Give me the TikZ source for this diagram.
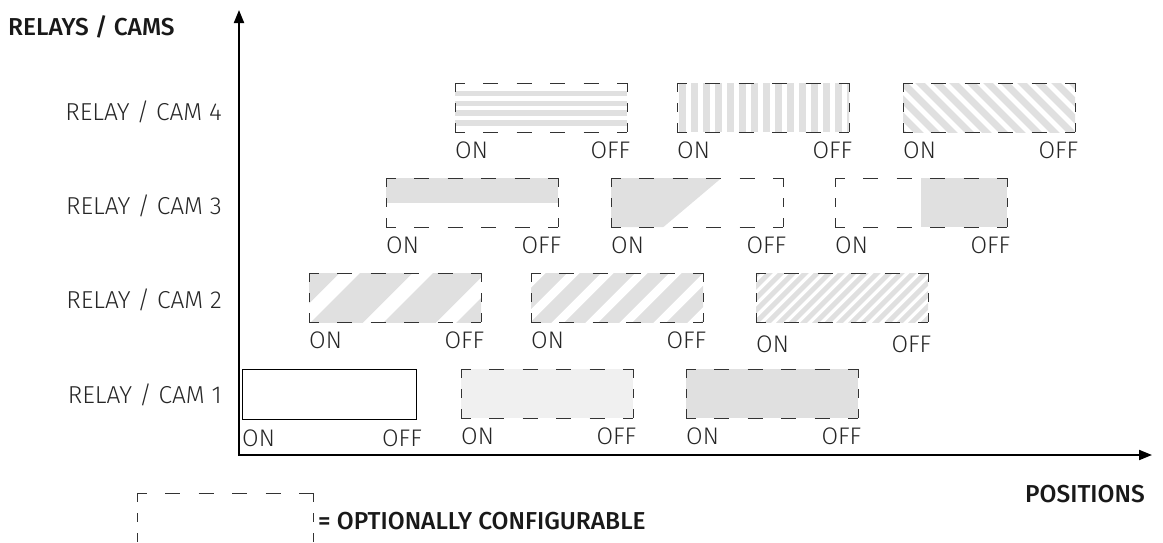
\documentclass[tikz,border=0pt]{standalone}
\usepackage{fontspec}
\setmainfont{Fira Sans Light}
\newfontfamily\medf{Fira Sans Medium}
\usetikzlibrary{arrows.meta}
\definecolor{dashc}{HTML}{333333}
\definecolor{stripec}{HTML}{E0E0E0}
\definecolor{lightc}{HTML}{F0F0F0}
\tikzset{
  cam/.style={inner sep=0pt, minimum width=172pt, minimum height=49pt, anchor=north west},
  hdash/.style={draw=dashc, line width=1pt, dash pattern=on 15pt off 18.5pt, dash phase=5.5pt},
  vdash/.style={draw=dashc, line width=1pt, dash pattern=on 9pt off 11pt},
  solidcam/.style={draw=black, line width=1pt, inner sep=0pt,
    minimum width=174pt, minimum height=50pt, anchor=north west},
  lbl/.style={font=\fontsize{24.5}{28}\selectfont, inner sep=0pt, text=black!85},
  onl/.style={lbl, font=\fontsize{24}{28}\selectfont, anchor=west},
  offl/.style={lbl, font=\fontsize{24}{28}\selectfont, anchor=east},
  rowl/.style={lbl, anchor=east},
  head/.style={font=\medf\fontsize{24.5}{28}\selectfont, inner sep=0pt, text=black!90},
  strp/.style={draw=stripec, solid},
  axis/.style={line width=2pt, -{Triangle[length=13pt,width=10pt]}}
}
\begin{document}
\begin{tikzpicture}[x=1pt,y=-1pt]
\useasboundingbox (0,0) rectangle (1163,542);
\clip (0,0) rectangle (1163,542);

% headings
\node[head, anchor=west] (yt) at (8,27) {RELAYS / CAMS};
\node[head, anchor=east] (xt) at (1145,494) {POSITIONS};

% row labels
\node[rowl] (r4) at (222,112) {RELAY / CAM 4};
\node[rowl] (r3) at (222,206) {RELAY / CAM 3};
\node[rowl] (r2) at (222,300) {RELAY / CAM 2};
\node[rowl] (r1) at (222,395) {RELAY / CAM 1};

% ---- row 4
\node[cam, path picture={
   \foreach \k in {0,...,3}
     \fill[stripec] ([yshift=-7.5pt-9.8pt*\k]path picture bounding box.north west) rectangle ++(172,5.5);
 }] (b41) at (455,83) {};
\node[cam, path picture={
   \foreach \k in {0,...,14}
     \fill[stripec] ([xshift=2pt+12pt*\k]path picture bounding box.north west) rectangle ++(7,49);
 }] (b42) at (677,83) {};
\node[cam, path picture={
   \foreach \k in {-4,...,12}
     \draw[strp, line width=7pt] ([xshift=17pt*\k-30pt, yshift=30pt]path picture bounding box.north west) -- ++(120,120);
 }] (b43) at (903,83) {};

% ---- row 3
\node[cam, path picture={
   \fill[stripec] (path picture bounding box.north west) rectangle (path picture bounding box.east);
 }] (b31) at (386,178) {};
\node[cam, path picture={
   \fill[stripec] (path picture bounding box.north west) -- ++(110,0) -- ([xshift=52pt]path picture bounding box.south west) -- (path picture bounding box.south west) -- cycle;
 }] (b32) at (611,178) {};
\node[cam, path picture={
   \fill[stripec] ([xshift=86pt]path picture bounding box.north west) rectangle (path picture bounding box.south east);
 }] (b33) at (835,178) {};

% ---- row 2
\node[cam, path picture={
   \foreach \k in {-1,...,3}
     \draw[strp, line width=37pt] ([xshift=28pt+73pt*\k-40pt, yshift=-40pt]path picture bounding box.south west) -- ++(140,-140);
 }] (b21) at (309,273) {};
\node[cam, path picture={
   \foreach \k in {-2,...,6}
     \draw[strp, line width=15pt] ([xshift=10pt+34pt*\k-30pt, yshift=-30pt]path picture bounding box.south west) -- ++(120,-120);
 }] (b22) at (531,273) {};
\node[cam, path picture={
   \foreach \k in {-5,...,15}
     \draw[strp, line width=5pt] ([xshift=12pt*\k-20pt, yshift=-20pt]path picture bounding box.south west) -- ++(100,-100);
 }] (b23) at (756,273) {};

% ---- row 1
\node[solidcam, fill=white] (b11) at (242,369) {};
\node[cam, fill=lightc] (b12) at (461,369) {};
\node[cam, fill=stripec] (b13) at (686,369) {};

% dashed borders
\foreach \b in {b41,b42,b43,b31,b32,b33,b21,b22,b23,b12,b13}{
  \draw[hdash] (\b.north west) -- (\b.north east);
  \draw[hdash] (\b.south west) -- (\b.south east);
  \draw[vdash] (\b.north west) -- (\b.south west);
  \draw[vdash] (\b.north east) -- (\b.south east);
}

% ON / OFF labels
\foreach \b/\dy in {b41/0,b42/0,b43/0,b31/0,b32/0,b33/0,b21/0,b22/0,b23/4,b12/0,b13/0}{
  \node[onl] (\b on) at ([yshift=-18pt-\dy pt]\b.south west) {ON};
  \node[offl] (\b off) at ([yshift=-18pt-\dy pt, xshift=3pt]\b.south east) {OFF};
}
\node[onl] (b11on) at ([yshift=-18pt]b11.south west) {ON};
\node[offl] (b11off) at ([yshift=-18pt, xshift=5pt]b11.south east) {OFF};

% axes
\coordinate (o) at (239,455);
\coordinate (ytop) at (239,10);
\coordinate (xend) at (1152,455);
\draw[axis] (o) -- (ytop);
\draw[axis] ([xshift=-1pt]o) -- (xend);

% legend
\node[cam, minimum width=176pt, minimum height=60pt] (leg) at (137,493) {};
\draw[hdash] (leg.north west) -- (leg.north east);
\draw[vdash] (leg.north west) -- (leg.south west);
\draw[vdash] (leg.north east) -- (leg.south east);
\node[head, anchor=west] (legt) at (318,521) {= OPTIONALLY CONFIGURABLE};
\end{tikzpicture}
\end{document}
